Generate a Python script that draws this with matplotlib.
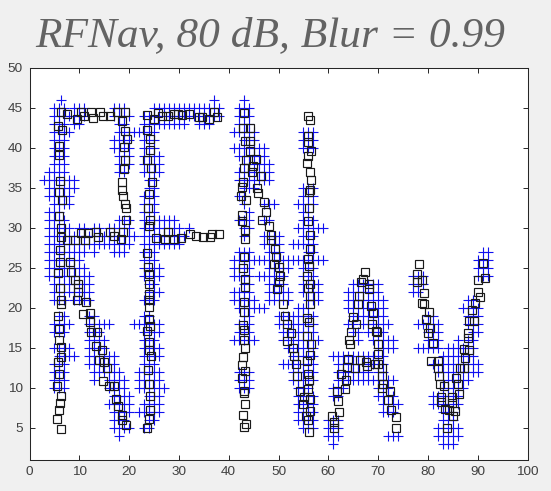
import matplotlib
matplotlib.use("Agg")
import matplotlib.pyplot as plt

title_text = "RFNav, 80 dB, Blur = 0.99"
x_ticks = list(range(0, 101, 10))
y_ticks = list(range(5, 51, 5))

plus_y_levels = list(range(46, 2, -1))
plus_x_by_row = [
 [6.4, 37, 43],
 [5,6,7,9,10,11,17,18,19,25,26,27,28,29,30,31,32,33,34,35,36,37,38,42,43,44],
 [5,6,7,8,9,10,11,17,18,19,20,23,24,25,26,27,28,29,30,31,32,33,34,35,36,37,38,42,43,44],
 [5,6,7,9,10,18,19,23,24,25,26,27,28,29,30,31,34,35,36,42,43,44],
 [5,6,7,8,18,19,20,21,22,23,24,25,41,42,43,44,45,55,56,57],
 [5,6,7,17,18,19,20,23,24,25,43,44,45,55,56,57],
 [5,6,7,17,18,19,20,23,24,25,41,42,43,44,45,46,47,55,56,57],
 [5,6,7,18,19,20,23,24,25,26,42,43,44,45,46,47],
 [5,6,7,18,19,20,23,24,25,26,43,44,45,46,47,48],
 [4,5,6,7,18,19,23,24,25,26,42,43,44,45,46,47,48],
 [3,4,5,6,7,8,9,24,25,42,43,44,45,46,47,48],
 [4,5,6,7,8,9,24,25,43,44,45,55,56,57],
 [4,5,6,7,8,23,24,25,42,43,55,56,57],
 [5,6,7,8,23,24,25,43,47,48,49,54,55,56,57],
 [4,5,6,23,24,25,44,55,56],
 [4,5,6,7,18,19,20,23,24,25,26,27,28,29,42,43,44,47,48,55,56,57],
 [4,5,6,7,8,10,11,13,14,16,17,18,19,20,23,24,25,26,27,28,29,30,32,43,44,54,55,56,57,58,59],
 [4,5,6,7,8,9,10,11,12,13,14,15,16,17,18,19,20,21,23,24,25,26,27,28,29,30,31,43,47,48,49,50,55,56,57],
 [4,5,6,7,8,9,10,11,12,13,14,15,16,17,18,19,20,23,24,25,26,27,28,29,30,47,48,49,50,53,54,55,56,57],
 [4,5,6,7,8,9,10,11,13,17,18,19,23,24,25,42,43,44,48,49,50,56,57,91,92],
 [4,5,6,7,8,9,10,23,24,25,41,42,43,44,45,46,47,48,49,50,51,52,53,54,55,56,57,58,59,90,91,92],
 [4,5,6,7,8,9,10,11,23,24,25,26,41,42,43,44,48,49,50,51,52,55,56,57,90,91,92],
 [4,5,6,7,8,9,10,11,12,23,24,25,26,41,42,43,44,46,47,48,49,50,51,55,56,57,77,78,79,90,91,92],
 [5,6,7,8,9,10,11,12,24,25,43,44,48,49,50,51,55,56,57,58,65,66,67,68,69,70,77,78,79],
 [5,6,7,8,9,10,11,12,24,25,26,41,42,43,44,48,49,50,51,52,55,56,57,58,64,65,66,67,68,69,70,77,78],
 [5,6,7,9,10,11,12,23,24,25,41,42,43,44,45,48,49,50,51,52,56,57,58,64,65,66,67,68,69,70,71,88,89],
 [42,43,44,45,46,47,54,55,56,64,65,66,67,68,69,70,71,87,88,89,90],
 [6,7,12,13,23,24,43,44,50,51,52,53,54,55,56,57,65,66,67,68,69,70,71,80,81,88,89,90],
 [5,6,7,8,12,13,14,15,16,21,22,23,24,25,26,42,43,44,50,51,52,53,54,55,56,57,64,65,67,68,69,70,71,72,78,79,80,81,82,88,89,90],
 [5,6,7,12,13,14,23,24,25,26,42,43,44,51,52,53,54,55,56,57,65,66,68,69,70,71,80,81,82,89,90],
 [12,13,14,15,23,24,25,41,42,43,44,45,51,52,53,54,55,56,57,58,66,69,70,71,72,73,80,81,82,86,88,89],
 [5,6,7,8,12,13,14,15,23,24,25,26,52,53,54,55,56,57,70,71,72,73,78,79,80,81,82,84,85,86,87,88,89],
 [6,7,8,9,12,13,14,15,16,17,23,24,25,26,53,54,55,56,57,61,62,63,64,65,66,67,68,69,70,71,83,84,85,86,87,88,89],
 [5,6,7,12,13,14,15,16,17,23,24,25,51,52,53,54,55,56,57,62,63,64,65,66,67,68,69,70,71,81,82,83,84,85,86,87,88,89,90],
 [5,6,7,13,14,15,16,17,18,22,23,24,25,26,42,43,44,53,54,55,56,57,62,63,64,65,66,67,68,70,71,82,83,84,85,86,87,88,89,90],
 [5,6,7,13,16,17,18,19,22,23,24,25,26,42,43,44,53,54,55,56,57,62,63,64,65,66,67,68,69,70,71,72,73,83,84,85,86,87,88],
 [5,6,7,16,17,18,19,22,23,24,25,26,27,42,43,44,54,55,56,61,62,63,70,71,72,83,84,85,86,87],
 [17,18,19,20,24,25,26,54,55,56,57,61,62,70,71,72,73,81,82,83,84,85,86],
 [16,17,18,19,20,23,24,25,26,54,55,56,57,71,72,73,74,81,82,83,84,85,86],
 [17,18,19,20,22,23,24,25,26,54,55,56,57,71,72,73,83,84,85],
 [17,18,19,24,25,54,55,56,57,60,61,62,83,84,85],
 [17,18,19,20,23,24,55,56,57,60,61,62,82,83,84,85,86],
 [18,60,61,62,72,73,74,82,83,84,85,86],
 [61,83,84,85],
]

square_x = [
 6.3,7.5,10.3,10.9,9.6,12.4,12.8,14.1,14.7,16.1,17.5,19.2,18.5,19.2,19.5,18.9,19.1,18.9,18.6,18.5,18.7,19.2,19.4,19.4,18.8,18.3,
 5.7,6.5,6,5.9,6.1,5.9,6.5,6,6.3,6.3,7.5,9.1,10.3,11.1,11.7,13.3,13.7,16.1,17,6.1,
 23.6,23.5,24.1,24.1,23.5,24.3,24.5,24,23.8,24.1,24,25.5,27.8,27.2,29.1,30.5,32.3,33.5,34.8,36.3,36.7,38,23.5,
 24.9,25.9,26.6,27.9,29,29.8,30.6,32.1,34.1,34.7,36.1,37.1,37.7,
 5.8,6.1,6.3,6.3,5.7,5.9,6,6.4,6.4,5.7,6,5.6,6.4,6.1,5.9,5.6,6.4,
 6.1,8.1,8.3,9.1,9.8,9.8,9.6,11.3,10.8,12.1,12.1,12.3,13.5,13.3,14.5,14,14.9,15.5,14.8,16,16.9,17.3,17.8,18.5,18.5,19.3,
 23.8,23.9,23.9,24,24,24,23.9,24.1,23.5,24,24,24.3,23.7,23.9,24.2,24.1,24,23.6,
 43,42.9,44.2,43.3,44.2,44.2,43.5,45.5,43,44.9,44.7,46.5,42.9,42.6,45.7,45.8,42.5,43.5,47,47.5,46.7,42.6,42.6,48,43.3,43.3,48.4,48.5,49.2,49.4,49,50,50.4,50,49.7,43.1,42.9,43.3,43.3,
 56,56.3,56,55.9,56.5,56,55.7,56.3,56.5,56.4,56.1,56.1,55.9,56.3,56.3,56,56.1,55.7,56.4,
 43,43.1,42.9,43.1,43.1,43.3,42.9,42.7,43.3,42.6,43,43,43.3,42.9,43.4,43,
 50.9,51.4,51.8,52.5,51.7,53,53.2,53.5,53.7,54.4,55.2,54.9,55.6,
 55.9,56.3,56.4,55.7,56.1,55.7,56.5,56.4,55.7,55.9,56.1,56,56.3,56.3,55.9,56.2,
 60.8,62.1,61.9,61.8,61.2,61.2,63.3,63.5,62.6,63.8,63.9,65.3,66.3,64.3,64.1,64.5,65.5,64.9,65.9,66.1,66.6,67.5,67.8,69.3,70,70,70,69.5,68.8,69,68.5,68.1,70.8,70.8,71,70.8,72.4,72,72.6,73.5,73.5,69.7,67.3,67,68.2,
 78.2,77.9,77.9,78.9,79.2,78.9,79.2,80.2,79.7,80.5,80,81.1,80.7,82.1,82,82.2,82.5,83.3,82.7,82.7,83.4,84.2,85.1,83.9,84.9,84.9,85.5,86.3,86,85.7,86.4,87.3,87.5,87.2,88.2,88,88.1,88.2,89.3,88.9,89.5,90.4,90,90,91.5,91,
]
square_y = [
 44.5,44.25,44.5,44,43.6,44.5,43.7,44.4,43.9,44,44.4,44.4,43.3,42.1,41.1,40.1,38.5,37.3,35.75,34.7,34,33,32.5,31,29.5,28.6,
 42.7,42.25,40.2,39.1,35.8,34.5,33.4,31.4,29.9,28.8,28.4,28.5,29.3,28.5,29.3,29.4,28.8,29.4,29,27.2,
 44.1,42.25,41.1,39.7,38.5,37.5,35.7,34.2,32.5,30.9,30.2,28.7,29.4,28.6,28.6,28.7,29.2,29,28.8,28.8,29.2,29.2,26.8,
 43.6,44.3,43.9,43.9,44.25,44.25,44.1,44.25,43.8,43.8,43.6,44.5,43.8,
 24.3,22.5,21,20.4,18.9,17.3,15.9,15.1,13.8,13.2,11.75,10.25,8.9,8.1,7.2,6.1,4.8,
 25.7,25.7,24.5,23.4,22.9,22,21,20.7,19.2,19.3,18.2,17,17,15.2,14.75,13.5,13.2,12.5,10.8,10.25,10.25,8.6,7.7,6.6,5.9,5.3,
 25.1,24.2,22.9,21.75,21,20.1,18.6,17.7,17.1,15.7,14.75,14,12.2,10.4,8.9,7.2,6.1,5,
 44.3,42.5,42.4,40.8,40.8,39.6,38.4,38.6,37.5,37.75,36.9,36.4,35.7,35.1,35,34.3,33.9,33.4,33.2,32,30.9,31.6,30.8,30.2,29.7,28.6,29.1,28.4,27.3,26.3,25.4,25.1,24,23.2,22.3,26.3,25,23.6,22.6,
 44,43.4,41.5,40.7,39.6,39,38.1,37,35.9,34.7,34.4,32.5,30.8,29.1,27.3,26.1,25.2,24,23,
 20.7,19.5,17.8,17.2,16,14.9,13.8,12.8,12.1,11.2,9.6,9.3,7.9,6.6,5.5,5.1,
 20.4,18.9,17.9,16.8,15.8,14.9,13.9,13,11.5,9.6,8.8,7.9,6.5,
 22.5,21.4,20.4,18.7,18.2,16.4,15.4,14.1,13.3,11.7,10.9,9.8,8.6,7.1,5.9,4.5,
 6.5,6.9,8.3,9.6,5.7,5,9.8,10.9,11.7,12.6,13.6,12.5,13.4,15.5,16,17,18,18.8,20.4,21.5,23.2,13.2,12.7,12.9,13,15.5,14.2,17.1,18,19.3,20.2,22.3,12.5,11.5,10.5,10,9.6,8.5,7.2,6.3,5,17,24.5,23.6,23,
 25.5,24.25,23.2,23.4,21.8,20.6,20.4,19.5,18.6,17.5,16.8,15.6,13.3,13.3,12.4,11.4,10.5,10.25,8.8,8.2,7.3,7.2,6.5,4.9,8.8,8.1,7.1,9.2,10.4,11.2,12.4,12.4,13.75,14.8,14.7,16.25,16.8,18.3,18.3,19.75,20.6,21.3,21.9,23.4,23.75,25.6,
]

plus_x, plus_y = [], []
for level, row in zip(plus_y_levels, plus_x_by_row):
    for value in row:
        plus_x.append(value)
        plus_y.append(level)

W, H = 551, 491
fig = plt.figure(figsize=(W / 100, H / 100), dpi=100, facecolor="#f0f0f0")
L, R, T, B = 29.5, 527.5, 67.5, 459.5
ax = fig.add_axes([L / W, 1 - B / H, (R - L) / W, (B - T) / H], facecolor="white")
ax.plot(plus_x, plus_y, linestyle="none", marker="+", color="#1010f0", ms=7, mew=0.8)
ax.plot(square_x, square_y, linestyle="none", marker="s", mfc="none", mec="#1a1a1a", ms=5.4, mew=0.85)
ax.set_xlim(0, 100)
ax.set_ylim(1, 50)
ax.set_xticks(x_ticks)
ax.set_yticks(y_ticks)
ax.tick_params(direction="in", length=3.6, width=0.7, top=True, right=True, color="#262626",
               labelsize=9.7, labelcolor="#404040", pad=5)
for lab in ax.get_xticklabels() + ax.get_yticklabels():
    lab.set_family("Liberation Sans")
for s in ax.spines.values():
    s.set_linewidth(0.75)
    s.set_color("#262626")
fig.text(270 / W, 1 - 46 / H, title_text, family="Liberation Serif", style="italic", fontsize=31.2,
         color="#636363", ha="center", va="baseline")
fig.savefig("out.png", dpi=100, facecolor=fig.get_facecolor())
